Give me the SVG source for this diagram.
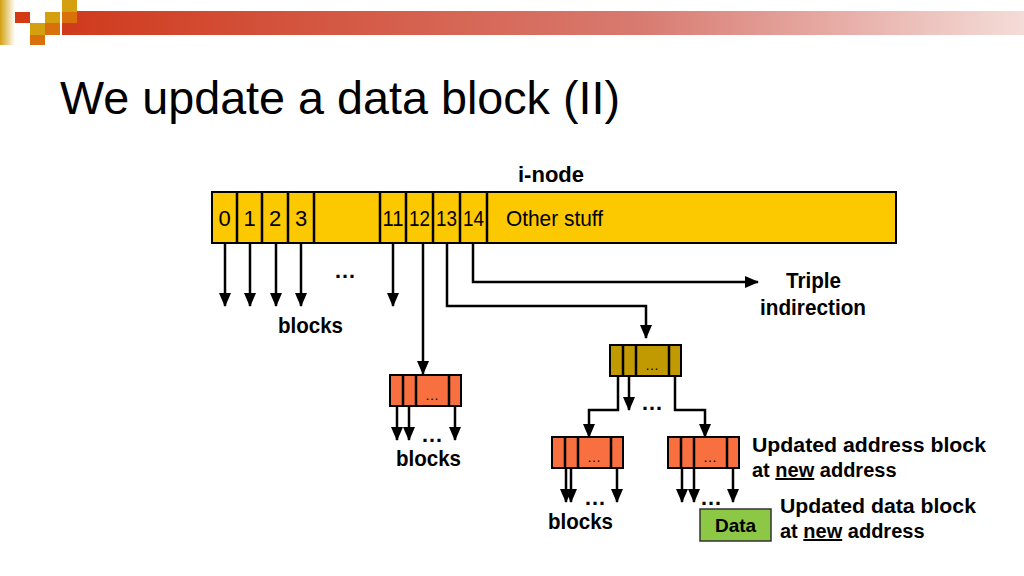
<svg xmlns="http://www.w3.org/2000/svg" width="1024" height="576" viewBox="0 0 1024 576">
<defs>
<linearGradient id="bar" x1="0" x2="1"><stop offset="0" stop-color="#d03a1c"/><stop offset="0.6" stop-color="#d87a70"/><stop offset="1" stop-color="#f4dcd8"/></linearGradient>
<linearGradient id="fade" x1="0" x2="1"><stop offset="0" stop-color="#d4a010"/><stop offset="1" stop-color="#fff"/></linearGradient>
<marker id="ar" markerWidth="14" markerHeight="12" refX="13" refY="6" orient="auto" markerUnits="userSpaceOnUse"><path d="M0,0 L14,6 L0,12 z" fill="#000"/></marker>
</defs>
<style>
.t{font-family:"Liberation Sans",Arial,sans-serif}
.b{font-weight:bold;font-size:22px}
.c{font-size:22px;font-family:"Liberation Sans",Arial,sans-serif}
.ln{stroke:#000;stroke-width:2.5;fill:none;marker-end:url(#ar)}
.pl{stroke:#000;stroke-width:2.5;fill:none}
.box{stroke:#000;stroke-width:2}
</style>
<rect x="62" y="11" width="962" height="24" fill="url(#bar)"/>
<rect x="0" y="0" width="15" height="45" fill="url(#fade)"/>
<rect x="15" y="12" width="15" height="11" fill="#d33a14"/>
<rect x="30" y="23" width="15" height="12" fill="#d4a010"/>
<rect x="30" y="35" width="15" height="10" fill="#d8700c"/>
<rect x="45" y="12" width="15" height="11" fill="#d4a010"/>
<rect x="45" y="23" width="15" height="12" fill="#d8700c"/>
<rect x="62" y="0" width="15" height="12" fill="#d4a010"/>
<rect x="62" y="12" width="15" height="11" fill="#d8700c"/>
<text x="60" y="114" class="t" font-size="46" textLength="560" lengthAdjust="spacingAndGlyphs">We update a data block (II)</text>

<g id="inode">
<text x="551" y="182" class="t b" text-anchor="middle">i-node</text>
<rect x="212" y="192" width="684" height="51" fill="#fcc800" class="box"/>
<g class="pl" stroke-width="2"><path d="M237,192V243M262,192V243M288,192V243M314,192V243M380,192V243M406,192V243M433,192V243M460,192V243M487,192V243"/></g>
<g class="c" text-anchor="middle">
<text x="224.5" y="226">0</text><text x="249.5" y="226">1</text><text x="275" y="226">2</text><text x="301" y="226">3</text>
<text x="393" y="226" textLength="21" lengthAdjust="spacingAndGlyphs">11</text><text x="419.5" y="226" textLength="21" lengthAdjust="spacingAndGlyphs">12</text><text x="446.5" y="226" textLength="21" lengthAdjust="spacingAndGlyphs">13</text><text x="473.5" y="226" textLength="21" lengthAdjust="spacingAndGlyphs">14</text>
<text x="506" y="226" text-anchor="start" textLength="97" lengthAdjust="spacingAndGlyphs">Other stuff</text></g>
</g>

<g id="connectors">
<path class="ln" d="M225,243V306"/><path class="ln" d="M250,243V306"/><path class="ln" d="M276,243V306"/><path class="ln" d="M301,243V306"/><path class="ln" d="M393,243V306"/>
<path class="ln" d="M423,243V374"/>
<path class="ln" d="M447,243V306H646V338"/>
<path class="ln" d="M473,243V282H758"/>
<path class="ln" d="M397,406V440"/><path class="ln" d="M409,406V440"/><path class="ln" d="M455,406V440"/>
<path class="ln" d="M618,376V410H589V437"/>
<path class="ln" d="M629,376V410"/>
<path class="ln" d="M675,376V410H705V437"/>
<path class="ln" d="M566,468V502"/><path class="ln" d="M571,468V502"/><path class="ln" d="M617,468V502"/>
<path class="ln" d="M682,468V502"/><path class="ln" d="M694,468V502"/><path class="ln" d="M733,468V502"/>
</g>
<g class="t b" font-size="24"><text x="345" y="278" text-anchor="middle">…</text><text x="432" y="442" text-anchor="middle">…</text><text x="652" y="410" text-anchor="middle">…</text><text x="595" y="505" text-anchor="middle">…</text><text x="711" y="505" text-anchor="middle">…</text></g>
<g class="c" font-weight="bold" font-size="23">
<text x="278" y="333" textLength="65" lengthAdjust="spacingAndGlyphs">blocks</text>
<text x="396" y="466" textLength="65" lengthAdjust="spacingAndGlyphs">blocks</text>
<text x="548" y="529" textLength="65" lengthAdjust="spacingAndGlyphs">blocks</text>
<text x="786" y="288" textLength="55" lengthAdjust="spacingAndGlyphs">Triple</text>
<text x="760" y="315" textLength="106" lengthAdjust="spacingAndGlyphs">indirection</text>
</g>

<g id="boxA"><rect x="390" y="375" width="71" height="31" fill="#f87040" class="box"/><path class="pl" stroke-width="2" d="M403,375V406M416,375V406M449,375V406"/><text x="432" y="400" class="t" font-size="14" text-anchor="middle">…</text></g>
<g id="boxB"><rect x="610" y="345" width="71" height="31" fill="#c09a00" class="box"/><path class="pl" stroke-width="2" d="M623,345V376M636,345V376M669,345V376"/><text x="652" y="370" class="t" font-size="14" text-anchor="middle">…</text></g>
<g id="boxC"><rect x="552" y="437" width="71" height="31" fill="#f87040" class="box"/><path class="pl" stroke-width="2" d="M565,437V468M578,437V468M611,437V468"/><text x="594" y="462" class="t" font-size="14" text-anchor="middle">…</text></g>
<g id="boxD"><rect x="668" y="437" width="71" height="31" fill="#f87040" class="box"/><path class="pl" stroke-width="2" d="M681,437V468M694,437V468M727,437V468"/><text x="710" y="462" class="t" font-size="14" text-anchor="middle">…</text></g>
<g id="data"><rect x="700" y="509" width="71" height="32" fill="#8cc846" stroke="#333" stroke-width="1.5"/><text x="735.5" y="532" class="t" font-weight="bold" font-size="19" text-anchor="middle">Data</text></g>
<g class="t" font-weight="bold" font-size="20">
<text x="752" y="452" textLength="234" lengthAdjust="spacingAndGlyphs">Updated address block</text>
<text x="752" y="477">at <tspan text-decoration="underline">new</tspan> address</text>
<text x="780" y="513" textLength="196" lengthAdjust="spacingAndGlyphs">Updated data block</text>
<text x="780" y="538">at <tspan text-decoration="underline">new</tspan> address</text>
</g>
</svg>
